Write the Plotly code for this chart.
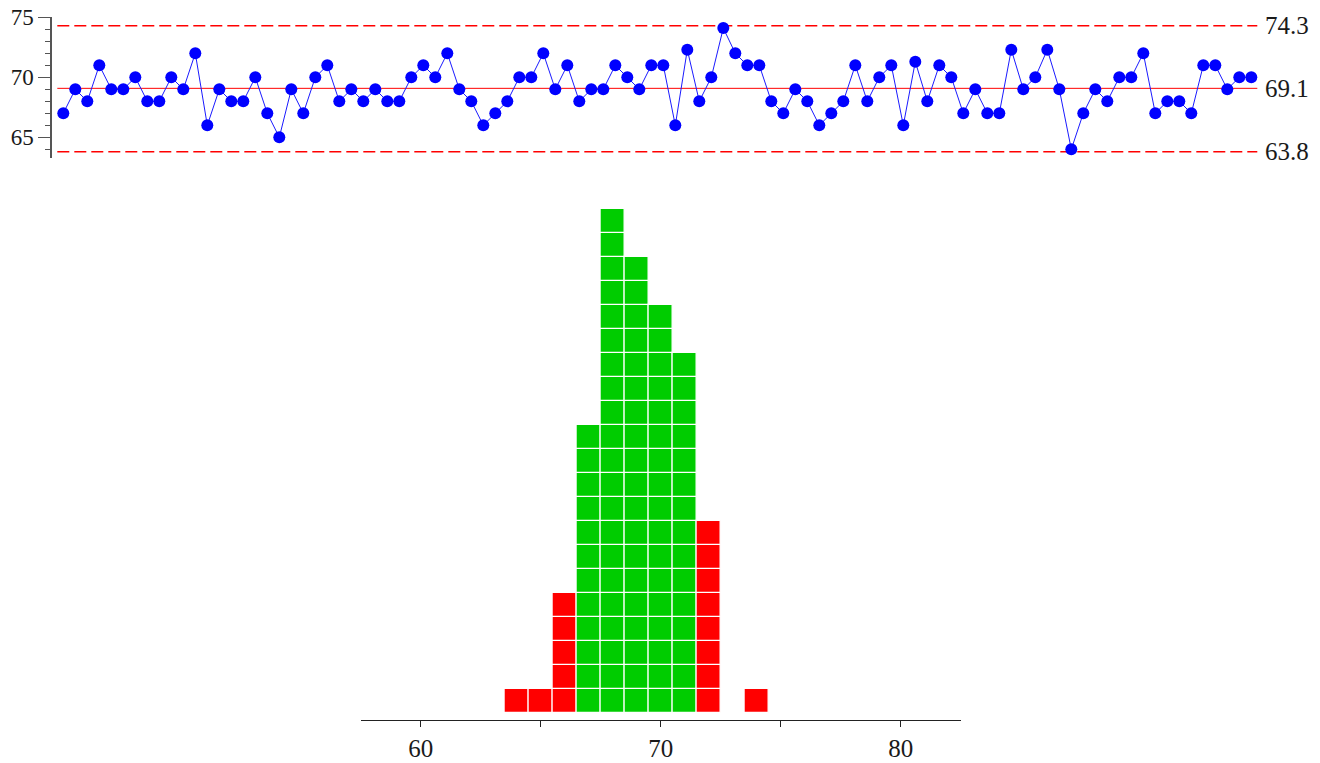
import plotly.graph_objects as go

# ---------------- data ----------------
values = [67, 69, 68, 71, 69, 69, 70, 68, 68, 70, 69, 72, 66, 69, 68, 68, 70, 67, 65, 69, 67, 70, 71,
          68, 69, 68, 69, 68, 68, 70, 71, 70, 72, 69, 68, 66, 67, 68, 70, 70, 72, 69, 71, 68, 69, 69, 71, 70, 69, 71,
          71, 66, 72.3, 68, 70, 74.1, 72, 71, 71, 68, 67, 69, 68, 66, 67, 68, 71, 68, 70, 71, 66, 71.3, 68, 71, 70, 67,
          69, 67, 67, 72.3, 69, 70, 72.3, 69, 64, 67, 69, 68, 70, 70, 72, 67, 68, 68, 67, 71, 71, 69, 70, 70]
ucl, cl, lcl = 74.3, 69.08, 63.8
limit_labels = ["74.3", "69.1", "63.8"]

hist_bins = [64, 65, 66, 67, 68, 69, 70, 71, 72, 74]
hist_counts = [1, 1, 5, 12, 21, 19, 17, 15, 8, 1]
in_spec = (67, 71)

run_ticks = [65, 70, 75]
hist_ticks = [60, 65, 70, 75, 80]
hist_ticktext = ["60", "", "70", "", "80"]

# ---------------- figure ----------------
OFF = 0                      # page offset of the plot div (body margin removed below)
W, H = 1320 - OFF, 763 - OFF
FONT = "Liberation Serif"
TXT = "#1a1a1a"

def px_x(p):
    return (p - OFF) / W

def px_y(p):
    return 1 - (p - OFF) / H

fig = go.Figure()

n = len(values)
idx = list(range(1, n + 1))
xs_line = [0.5, n + 0.5]

# control limits
for v, dash in [(ucl, "12px,5px"), (lcl, "12px,5px"), (cl, "solid")]:
    fig.add_trace(go.Scatter(x=xs_line, y=[v, v], mode="lines",
                             line=dict(color="#ff0000", width=1.5 if dash != "solid" else 1, dash=dash),
                             hoverinfo="skip", showlegend=False, xaxis="x", yaxis="y"))

# run chart
fig.add_trace(go.Scatter(x=idx, y=values, mode="lines+markers",
                         line=dict(color="#1a1aff", width=1),
                         marker=dict(color="#0000ff", size=12),
                         hoverinfo="skip", showlegend=False, xaxis="x", yaxis="y",
                         cliponaxis=False))

# histogram as stacked unit cells
cx, cbase, ccol = [], [], []
for b, c in zip(hist_bins, hist_counts):
    col = "#00cc00" if in_spec[0] <= b <= in_spec[1] else "#ff0000"
    for k in range(c):
        cx.append(b)
        cbase.append(k)
        ccol.append(col)
fig.add_trace(go.Bar(x=cx, y=[1] * len(cx), base=cbase, width=1,
                     marker=dict(color=ccol, line=dict(color="white", width=1.2)),
                     hoverinfo="skip", showlegend=False, xaxis="x2", yaxis="y2"))

# right-side labels
for v, lab in zip([ucl, cl, lcl], limit_labels):
    fig.add_annotation(x=n + 0.5, y=v, xref="x", yref="y", text=lab, showarrow=False,
                       xanchor="left", yanchor="middle", xshift=6,
                       font=dict(family=FONT, size=25, color=TXT))

# run chart geometry: 12 px per point, 12 px per unit
x_left_px, x_right_px = 52, 1260
first_px = 63.3
r0 = 1 + (x_left_px - first_px) / 12
r1 = 1 + (x_right_px - first_px) / 12
y_top_px, y_bot_px = 17.3, 158.3
ytop_val = 75
ybot_val = ytop_val - (y_bot_px - y_top_px) / 12

# histogram geometry: 24 px per unit
hx0, hx1 = 360.7, 960.7
hy_top, hy_bot = 200, 720
base_off = -6.7 / 24
htop = base_off + (hy_bot - hy_top) / 24

fig.update_layout(
    template="none",
    width=W, height=H,
    margin=dict(l=0, r=0, t=0, b=0, pad=0),
    paper_bgcolor="white", plot_bgcolor="white",
    barmode="overlay", bargap=0,
    font=dict(family=FONT, color=TXT),
    xaxis=dict(domain=[px_x(x_left_px), px_x(x_right_px)], range=[r0, r1], automargin=False,
               showgrid=False, zeroline=False, showline=False, showticklabels=False, ticks="",
               anchor="y"),
    yaxis=dict(domain=[px_y(y_bot_px), px_y(y_top_px)], range=[ybot_val, ytop_val], automargin=False,
               showgrid=False, zeroline=False, showline=True, linecolor="#555555", linewidth=1.5,
               tickvals=run_ticks, ticks="outside", ticklen=12, tickcolor="#555555", tickwidth=1,
               tickfont=dict(family=FONT, size=23, color=TXT), ticklabeloverflow="allow",
               minor=dict(dtick=1, ticks="outside", ticklen=5, tickcolor="#555555", tickwidth=1),
               anchor="x"),
    xaxis2=dict(domain=[px_x(hx0), px_x(hx1)], range=[57.5, 82.5], automargin=False,
                showgrid=False, zeroline=False, showline=True, linecolor="#222222", linewidth=1.2,
                tickvals=hist_ticks, ticktext=hist_ticktext, ticks="outside", ticklen=6,
                tickcolor="#222222", tickwidth=1, ticklabeloverflow="allow",
                tickfont=dict(family=FONT, size=25, color=TXT),
                anchor="y2"),
    yaxis2=dict(domain=[px_y(hy_bot), px_y(hy_top)], range=[base_off, htop], automargin=False,
                showgrid=False, zeroline=False, showline=False, showticklabels=False, ticks="",
                anchor="x2"),
)

fig.write_html("out.html", config={"displayModeBar": False},
               post_script="document.body.style.margin='0';")
